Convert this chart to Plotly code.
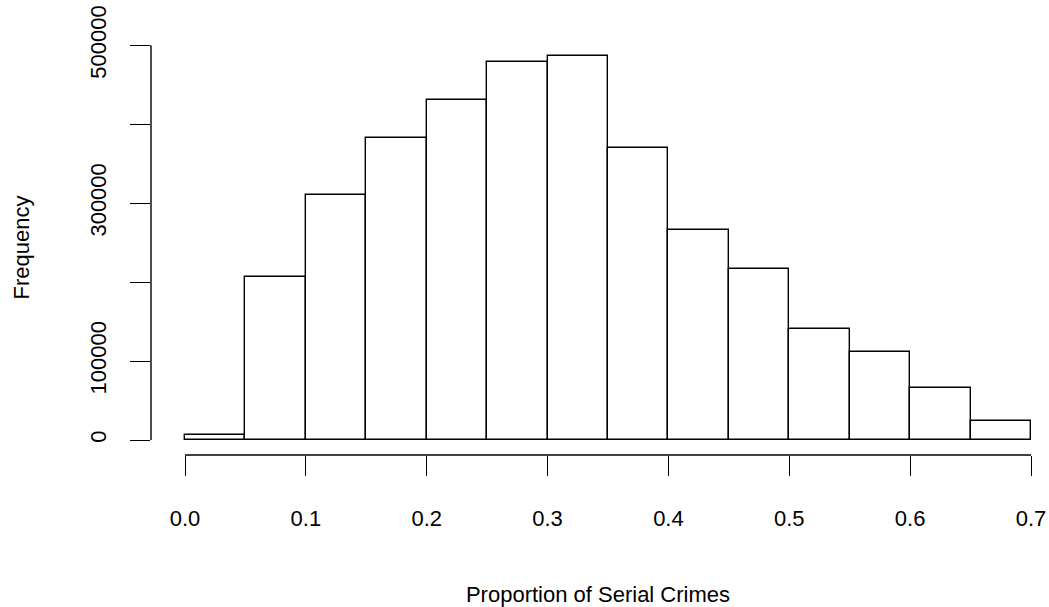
import plotly.graph_objects as go

bin_left = [0.00, 0.05, 0.10, 0.15, 0.20, 0.25, 0.30, 0.35, 0.40, 0.45, 0.50, 0.55, 0.60, 0.65]
bin_width = 0.05
counts = [6300, 207000, 310000, 383000, 431000, 479000, 486500, 370000, 266000, 216000, 140600, 111500, 65500, 23700]
x_ticks = [0.0, 0.1, 0.2, 0.3, 0.4, 0.5, 0.6, 0.7]
x_tick_text = ["0.0", "0.1", "0.2", "0.3", "0.4", "0.5", "0.6", "0.7"]
y_ticks = [0, 100000, 200000, 300000, 400000, 500000]
# R drops the overlapping labels at 200000 and 400000
y_tick_text = ["0", "100000", "", "300000", "", "500000"]

FONT = "Liberation Sans, Arial, Helvetica, sans-serif"
LW = 1.4

centers = [b + bin_width / 2 for b in bin_left]

fig = go.Figure()
fig.add_trace(go.Bar(
    x=centers, y=counts, width=[bin_width] * len(counts),
    marker=dict(color="white", line=dict(color="black", width=LW)),
    hoverinfo="x+y", showlegend=False,
))

# R-style axis lines spanning only first to last tick
fig.add_shape(type="line", xref="x", yref="paper", x0=x_ticks[0], x1=x_ticks[-1], y0=0, y1=0,
              line=dict(color="black", width=LW))
fig.add_shape(type="line", xref="paper", yref="y", x0=0, x1=0, y0=y_ticks[0], y1=y_ticks[-1],
              line=dict(color="black", width=LW))

fig.update_layout(
    width=1049, height=607,
    margin=dict(l=151, r=4, t=40, b=152, autoexpand=False),
    paper_bgcolor="white", plot_bgcolor="white",
    font=dict(family=FONT, size=22, color="black"),
    bargap=0,
    xaxis=dict(
        range=[-34 / 1208.6, 0.7 + 14 / 1208.6],
        tickmode="array", tickvals=x_ticks, ticktext=x_tick_text,
        ticks="outside", ticklen=20, tickwidth=LW, tickcolor="black",
        showgrid=False, zeroline=False, showline=False,
        ticklabelstandoff=24,
        title=dict(text="Proportion of Serial Crimes", standoff=56, font=dict(size=22)),
        automargin=False,
    ),
    yaxis=dict(
        range=[-19000, 506700],
        tickmode="array", tickvals=y_ticks, ticktext=y_tick_text,
        tickangle=-90,
        ticks="outside", ticklen=20, tickwidth=LW, tickcolor="black",
        showgrid=False, zeroline=False, showline=False,
        ticklabelstandoff=15,
        title=dict(text="Frequency", standoff=50, font=dict(size=22)),
        automargin=False,
    ),
)

fig.write_html(
    "out.html",
    config={"displayModeBar": False},
    post_script="document.body.style.margin='0';document.body.style.overflow='hidden';",
)
